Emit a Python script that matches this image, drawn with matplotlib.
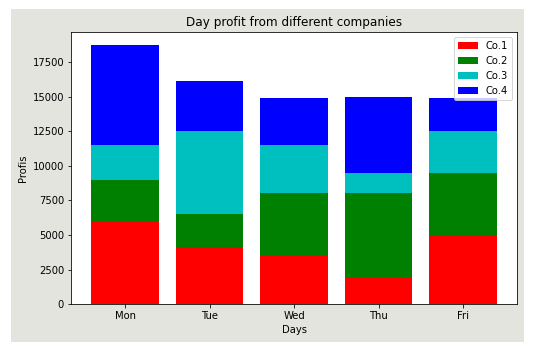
import matplotlib
matplotlib.use("Agg")
import matplotlib.pyplot as plt
from matplotlib.patches import Rectangle
import numpy as np

days = ["Mon", "Tue", "Wed", "Thu", "Fri"]
co1 = [6000, 4100, 3500, 2000, 5000]
co2 = [3000, 2400, 4500, 6000, 4500]
co3 = [2500, 6000, 3500, 1500, 3000]
co4 = [7200, 3600, 3400, 5500, 2400]
series = [("Co.1", co1, "r"), ("Co.2", co2, "g"), ("Co.3", co3, "c"), ("Co.4", co4, "b")]

W, H = 542, 347
fig = plt.figure(figsize=(W/72, H/72), dpi=72, facecolor="white")
fig.add_artist(Rectangle((11/W, 1-341.7/H), (523.7-11)/W, (341.7-9)/H,
                         transform=fig.transFigure, facecolor="#e4e4df",
                         edgecolor="none", zorder=-10))
ax = fig.add_axes([71/W, 1-304.3/H, (517.3-71)/W, (304.3-32.3)/H])
ax.set_facecolor("white")

bottom = np.zeros(len(days))
for name, vals, col in series:
    ax.bar(days, vals, bottom=bottom, color=col, label=name)
    bottom += np.array(vals)

ax.set_title("Day profit from different companies")
ax.set_xlabel("Days")
ax.set_ylabel("Profis")
ax.legend(loc="upper right")
fig.savefig("out.png", dpi=72, facecolor="white")
